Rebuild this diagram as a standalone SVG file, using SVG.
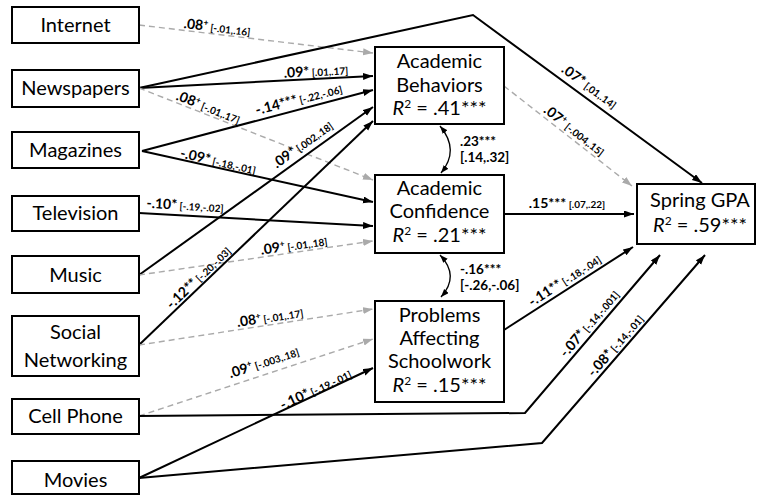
<svg xmlns="http://www.w3.org/2000/svg" width="758" height="496" viewBox="0 0 758 496">
<style>
.box{fill:#fff;stroke:#000;stroke-width:2}
.nt{font-family:Lato,"Open Sans",sans-serif;font-size:20px;fill:#000;text-anchor:middle}
.blk{fill:none;stroke:#000;stroke-width:2}
.gry{fill:none;stroke:#aaa;stroke-width:1.4;stroke-dasharray:6,4}
.crv{fill:none;stroke:#000;stroke-width:1.3}
.lb{font-family:Lato,"Open Sans",sans-serif;font-weight:bold;font-size:14px;fill:#000;text-anchor:middle}
.ci{font-size:10px}
.sp{font-size:8.5px}
.cl{font-family:Lato,"Open Sans",sans-serif;font-weight:bold;font-size:13.5px;fill:#000}
.sup2{font-size:12px}
</style>
<defs>
<marker id="ab" markerUnits="userSpaceOnUse" markerWidth="11" markerHeight="8" refX="10" refY="3.5" orient="auto"><path d="M0,0 L10,3.5 L0,7 z" fill="#000"/></marker>
<marker id="ag" markerUnits="userSpaceOnUse" markerWidth="11" markerHeight="8" refX="10" refY="3.5" orient="auto"><path d="M0,0 L10,3.5 L0,7 z" fill="#aaa"/></marker>
<marker id="ac" markerUnits="userSpaceOnUse" markerWidth="10" markerHeight="7" refX="8" refY="3" orient="auto-start-reverse"><path d="M0,0 L8,3 L0,6 z" fill="#000"/></marker>
</defs>

<g id="connectors">
<line class="gry" x1="139" y1="25" x2="373" y2="53" marker-end="url(#ag)"/>
<line class="blk" x1="139" y1="88" x2="373" y2="76" marker-end="url(#ab)"/>
<polyline class="blk" points="139,88 473,15 702,183" marker-end="url(#ab)"/>
<line class="gry" x1="139" y1="88" x2="373" y2="180" marker-end="url(#ag)"/>
<line class="blk" x1="142" y1="151" x2="373" y2="90" marker-end="url(#ab)"/>
<line class="blk" x1="142" y1="151" x2="373" y2="202" marker-end="url(#ab)"/>
<line class="blk" x1="139" y1="213" x2="373" y2="226" marker-end="url(#ab)"/>
<line class="blk" x1="139" y1="275" x2="373" y2="107" marker-end="url(#ab)"/>
<line class="gry" x1="139" y1="275" x2="373" y2="241" marker-end="url(#ag)"/>
<line class="blk" x1="139" y1="345" x2="373" y2="121" marker-end="url(#ab)"/>
<line class="gry" x1="139" y1="345" x2="373" y2="309" marker-end="url(#ag)"/>
<line class="gry" x1="139" y1="416" x2="373" y2="339" marker-end="url(#ag)"/>
<polyline class="blk" points="139,416 525,413 660,255" marker-end="url(#ab)"/>
<line class="blk" x1="139" y1="478" x2="373" y2="368" marker-end="url(#ab)"/>
<polyline class="blk" points="139,478 542,443 705,255" marker-end="url(#ab)"/>
<line class="gry" x1="504" y1="86" x2="632" y2="186" marker-end="url(#ag)"/>
<line class="blk" x1="504" y1="214" x2="634" y2="214" marker-end="url(#ab)"/>
<line class="blk" x1="504" y1="330" x2="633" y2="247" marker-end="url(#ab)"/>
<path class="crv" d="M440,126 Q460,150 441,173" marker-start="url(#ac)" marker-end="url(#ac)"/>
<path class="crv" d="M440,255 Q460,276 441,297" marker-start="url(#ac)" marker-end="url(#ac)"/>

<text class="lb" transform="translate(217,28) rotate(6.8)" y="4">.08<tspan class="sp" dy="-5">+</tspan><tspan class="ci" dy="5"> [-.01,.16]</tspan></text>
<text class="lb" transform="translate(316,72) rotate(-2.9)" y="4">.09*<tspan class="ci"> [.01,.17]</tspan></text>
<text class="lb" transform="translate(299,100) rotate(-14.4)" y="4">-.14***<tspan class="ci"> [-.22,-.06]</tspan></text>
<text class="lb" transform="translate(208,108) rotate(21.5)" y="4">.08<tspan class="sp" dy="-5">+</tspan><tspan class="ci" dy="5"> [-.01,.17]</tspan></text>
<text class="lb" transform="translate(218,162) rotate(12.6)" y="4">-.09*<tspan class="ci"> [-.18,-.01]</tspan></text>
<text class="lb" transform="translate(303,145) rotate(-35.6)" y="4">.09*<tspan class="ci"> [.002,.18]</tspan></text>
<text class="lb" transform="translate(185,206) rotate(3.4)" y="4">-.10*<tspan class="ci"> [-.19,-.02]</tspan></text>
<text class="lb" transform="translate(199,278) rotate(-43.9)" y="4">-.12**<tspan class="ci"> [-.20,-.03]</tspan></text>
<text class="lb" transform="translate(294,246) rotate(-8)" y="4">.09<tspan class="sp" dy="-5">+</tspan><tspan class="ci" dy="5"> [-.01,.18]</tspan></text>
<text class="lb" transform="translate(270,318) rotate(-8.8)" y="4">.08<tspan class="sp" dy="-5">+</tspan><tspan class="ci" dy="5"> [-.01,.17]</tspan></text>
<text class="lb" transform="translate(264,363) rotate(-18.3)" y="4">.09<tspan class="sp" dy="-5">+</tspan><tspan class="ci" dy="5"> [-.003,.18]</tspan></text>
<text class="lb" transform="translate(316,390) rotate(-25.3)" y="4">-.10*<tspan class="ci"> [-.19,-.01]</tspan></text>
<text class="lb" transform="translate(589,87) rotate(36.1)" y="4">.07*<tspan class="ci"> [.01,.14]</tspan></text>
<text class="lb" transform="translate(574,131) rotate(38)" y="4">.07<tspan class="sp" dy="-5">+</tspan><tspan class="ci" dy="5"> [-.004,.15]</tspan></text>
<text class="lb" transform="translate(567,204)" y="4">.15***<tspan class="ci"> [.07,.22]</tspan></text>
<text class="lb" transform="translate(565,281) rotate(-32.8)" y="4">-.11**<tspan class="ci"> [-.18,-.04]</tspan></text>
<text class="lb" transform="translate(590,324) rotate(-49.5)" y="4">-.07*<tspan class="ci"> [-.14,-.001]</tspan></text>
<text class="lb" transform="translate(616,346) rotate(-49)" y="4">-.08*<tspan class="ci"> [-.14,-.01]</tspan></text>
<text class="cl" x="460" y="146">.23***</text>
<text class="cl ci" x="460" y="162">[.14,.32]</text>
<text class="cl" x="460" y="274">-.16***</text>
<text class="cl ci" x="460" y="290">[-.26,-.06]</text>
</g>

<g id="internet"><rect class="box" x="12" y="7" width="127" height="36"/><text class="nt" x="75.5" y="32">Internet</text></g>
<g id="newspapers"><rect class="box" x="12" y="70" width="127" height="37"/><text class="nt" x="75.5" y="95">Newspapers</text></g>
<g id="magazines"><rect class="box" x="12" y="132" width="127" height="36"/><text class="nt" x="75.5" y="157">Magazines</text></g>
<g id="television"><rect class="box" x="12" y="196" width="127" height="35"/><text class="nt" x="75.5" y="220">Television</text></g>
<g id="music"><rect class="box" x="12" y="256" width="127" height="37"/><text class="nt" x="75.5" y="282">Music</text></g>
<g id="social-networking"><rect class="box" x="12" y="316" width="127" height="60"/><text class="nt" x="75.5" y="339">Social</text><text class="nt" x="75.5" y="367">Networking</text></g>
<g id="cell-phone"><rect class="box" x="12" y="399" width="127" height="35"/><text class="nt" x="75.5" y="423">Cell Phone</text></g>
<g id="movies"><rect class="box" x="12" y="461" width="127" height="33"/><text class="nt" x="75.5" y="487">Movies</text></g>

<g id="academic-behaviors"><rect class="box" x="375" y="47" width="129" height="77"/><text class="nt" x="439.5" y="68">Academic</text><text class="nt" x="439.5" y="92">Behaviors</text><text class="nt" x="439.5" y="115"><tspan font-style="italic">R</tspan><tspan class="sup2" dy="-7">2</tspan><tspan dy="7"> = .41***</tspan></text></g>
<g id="academic-confidence"><rect class="box" x="375" y="175" width="129" height="78"/><text class="nt" x="439.5" y="195">Academic</text><text class="nt" x="439.5" y="218">Confidence</text><text class="nt" x="439.5" y="242"><tspan font-style="italic">R</tspan><tspan class="sup2" dy="-7">2</tspan><tspan dy="7"> = .21***</tspan></text></g>
<g id="problems-affecting-schoolwork"><rect class="box" x="375" y="301" width="129" height="101"/><text class="nt" x="439.5" y="322">Problems</text><text class="nt" x="439.5" y="345">Affecting</text><text class="nt" x="439.5" y="368">Schoolwork</text><text class="nt" x="439.5" y="392"><tspan font-style="italic">R</tspan><tspan class="sup2" dy="-7">2</tspan><tspan dy="7"> = .15***</tspan></text></g>
<g id="spring-gpa"><rect class="box" x="637" y="184" width="118" height="60"/><text class="nt" x="700" y="207">Spring GPA</text><text class="nt" x="700" y="232"><tspan font-style="italic">R</tspan><tspan class="sup2" dy="-7">2</tspan><tspan dy="7"> = .59***</tspan></text></g>
</svg>
